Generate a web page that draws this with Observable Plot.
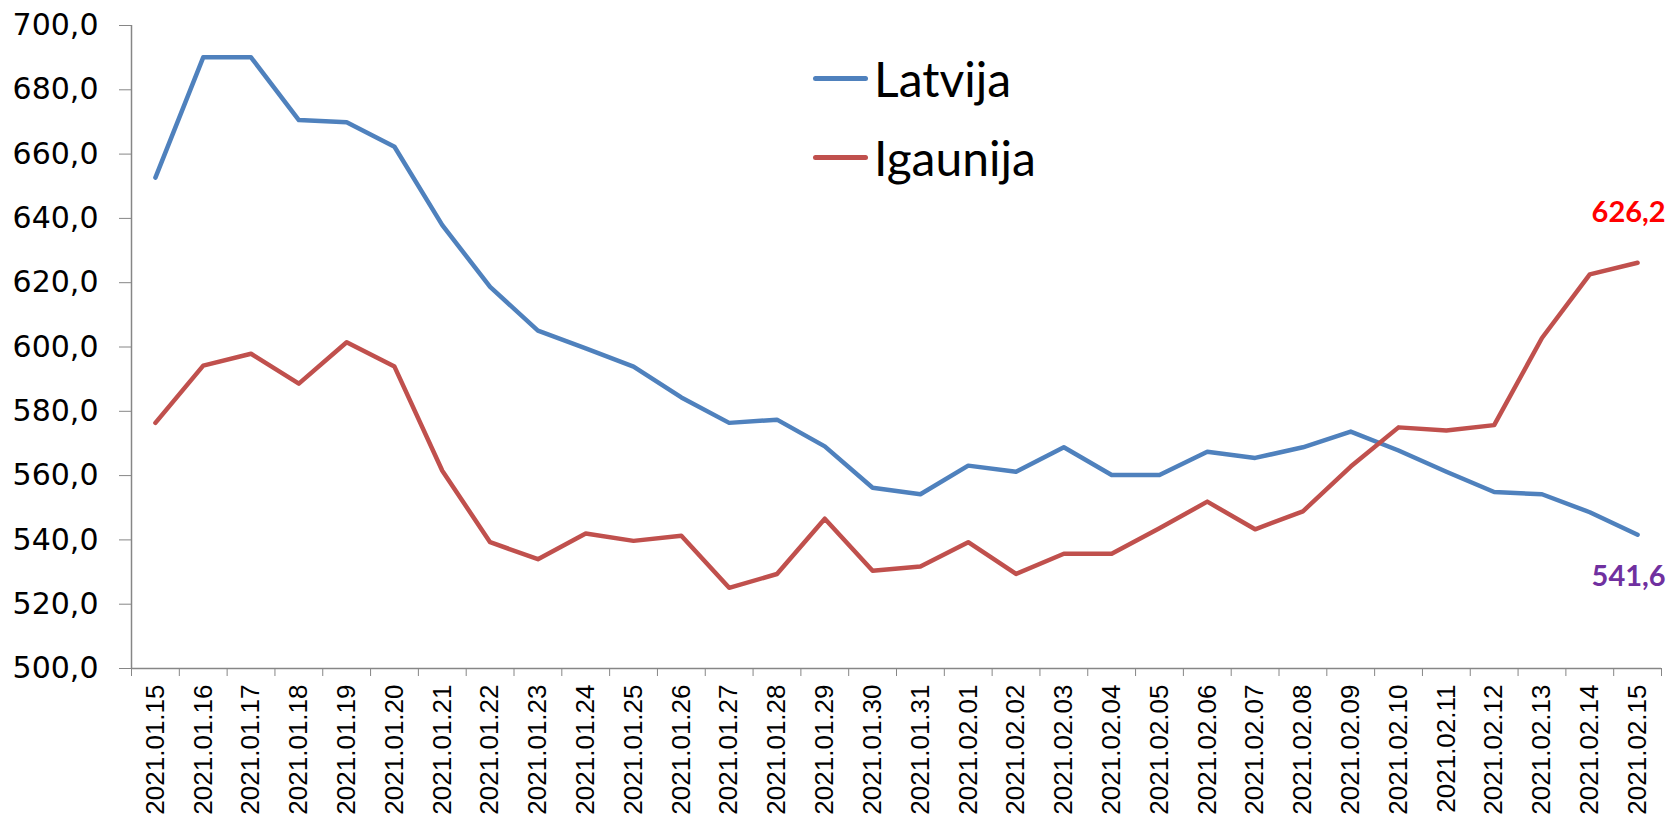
<!DOCTYPE html>
<html>
<head>
<meta charset="utf-8">
<script src="https://cdn.jsdelivr.net/npm/d3@7"></script>
<script src="https://cdn.jsdelivr.net/npm/@observablehq/plot@0.6"></script>
<style>
  html, body { margin: 0; padding: 0; background: #fff; }
  #wrap { position: relative; width: 1669px; height: 822px; overflow: hidden; }
  .legend { position: absolute; left: 813px; font-family: Lato, "Open Sans", sans-serif; font-size: 48px; color: #000; display: flex; align-items: center; }
  .legend .sw { width: 55px; height: 5px; border-radius: 3px; margin-right: 6px; }
</style>
</head>
<body>
<div id="wrap">
  <div id="chart"></div>
  <div class="legend" style="top:50px"><span class="sw" style="background:#4F81BD"></span>Latvija</div>
  <div class="legend" style="top:129px"><span class="sw" style="background:#C0504D"></span>Igaunija</div>
</div>
<script>
const dates = [
  "2021.01.15","2021.01.16","2021.01.17","2021.01.18","2021.01.19","2021.01.20","2021.01.21","2021.01.22",
  "2021.01.23","2021.01.24","2021.01.25","2021.01.26","2021.01.27","2021.01.28","2021.01.29","2021.01.30",
  "2021.01.31","2021.02.01","2021.02.02","2021.02.03","2021.02.04","2021.02.05","2021.02.06","2021.02.07",
  "2021.02.08","2021.02.09","2021.02.10","2021.02.11","2021.02.12","2021.02.13","2021.02.14","2021.02.15"
];
const latvija = [
  652.7, 690.1, 690.1, 670.6, 669.9, 662.3, 637.9, 618.7,
  605.1, 599.6, 593.9, 584.3, 576.4, 577.4, 569.1, 556.2,
  554.2, 563.1, 561.2, 568.8, 560.2, 560.2, 567.4, 565.5,
  568.8, 573.7, 567.8, 561.2, 554.9, 554.2, 548.6, 541.6
];
const igaunija = [
  576.4, 594.2, 597.9, 588.6, 601.5, 593.9, 561.5, 539.3,
  534.0, 542.0, 539.7, 541.3, 525.1, 529.4, 546.6, 530.4,
  531.7, 539.3, 529.4, 535.7, 535.7, 543.6, 551.9, 543.3,
  548.9, 562.8, 575.0, 574.0, 575.7, 602.8, 622.6, 626.2
];
const yTicks = [500, 520, 540, 560, 580, 600, 620, 640, 660, 680, 700];

const idx = dates.map((d, i) => i);
const boundaries = [...idx.map(i => i - 0.5), dates.length - 0.5];
const rowsL = idx.map(i => ({i, v: latvija[i]}));
const rowsI = idx.map(i => ({i, v: igaunija[i]}));
const last = dates.length - 1;
const fmt = v => v.toFixed(1).replace(".", ",");
const axisColor = "#868686";

const chart = Plot.plot({
  width: 1669,
  height: 822,
  marginLeft: 131,
  marginRight: 8,
  marginTop: 25,
  marginBottom: 154,
  style: {fontFamily: "'Liberation Sans', Arial, sans-serif", background: "#fff", overflow: "visible"},
  x: {type: "linear", domain: [-0.5, dates.length - 0.5], axis: null},
  y: {domain: [500, 700], axis: null},
  marks: [
    Plot.axisY({ticks: yTicks, tickSize: 12, tickPadding: 21, tickFormat: fmt, stroke: axisColor, label: null,
      fontSize: 30, fontFamily: "'DejaVu Sans', Verdana, sans-serif", fill: "#000"}),
    Plot.axisX({ticks: boundaries, tickSize: 8, tickFormat: () => "", stroke: axisColor, label: null}),
    Plot.axisX({ticks: idx, tickSize: 0, tickPadding: 16, tickRotate: -90, tickFormat: i => dates[i], label: null,
      fontSize: 26, fill: "#000"}),
    Plot.ruleX([-0.5], {stroke: axisColor, strokeWidth: 1.5}),
    Plot.ruleY([500], {stroke: axisColor, strokeWidth: 1.5}),
    Plot.line(rowsL, {x: "i", y: "v", stroke: "#4F81BD", strokeWidth: 4.5, strokeLinejoin: "round", strokeLinecap: "round"}),
    Plot.line(rowsI, {x: "i", y: "v", stroke: "#C0504D", strokeWidth: 4.5, strokeLinejoin: "round", strokeLinecap: "round"}),
    Plot.text([rowsI[last]], {x: "i", y: "v", text: d => fmt(d.v), fill: "#FF0000", fontWeight: "bold",
      fontSize: 29, fontFamily: "Lato, 'Open Sans', sans-serif", dx: -9, dy: -50}),
    Plot.text([rowsL[last]], {x: "i", y: "v", text: d => fmt(d.v), fill: "#7030A0", fontWeight: "bold",
      fontSize: 29, fontFamily: "Lato, 'Open Sans', sans-serif", dx: -9, dy: 42})
  ]
});
document.getElementById("chart").appendChild(chart);
</script>
</body>
</html>
